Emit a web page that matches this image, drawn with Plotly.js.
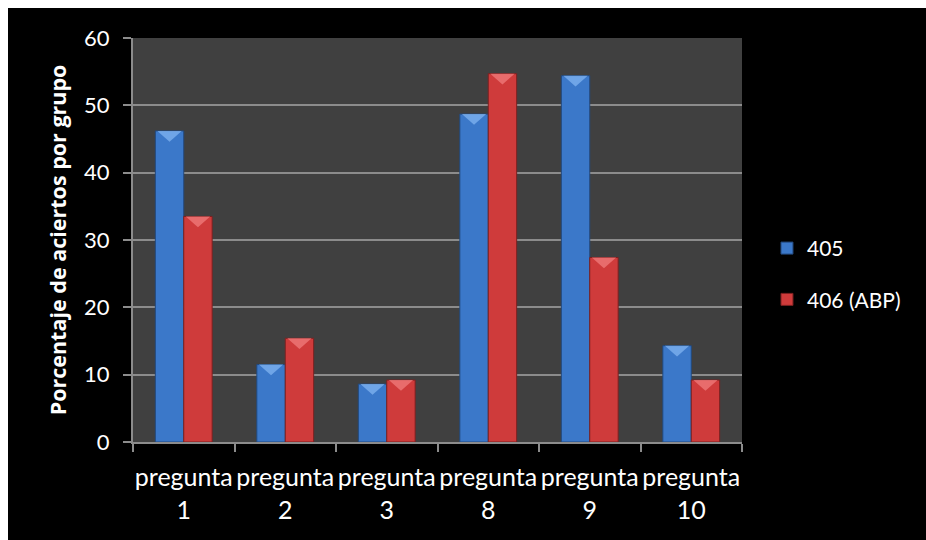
<!DOCTYPE html>
<html>
<head>
<meta charset="utf-8">
<script src="https://cdn.plot.ly/plotly-3.0.1.min.js"></script>
<style>
  html, body { margin: 0; padding: 0; background: #ffffff; }
  #chart { position: absolute; left: 8px; top: 8px; width: 918px; height: 532px; }
</style>
</head>
<body>
<div id="chart"></div>
<script>
// Porcentaje de aciertos por pregunta, grupos 405 y 406 (ABP)
const categories = ["pregunta<br>1", "pregunta<br>2", "pregunta<br>3", "pregunta<br>8", "pregunta<br>9", "pregunta<br>10"];
const grupo405 = [46.2, 11.5, 8.6, 48.7, 54.4, 14.3];
const grupo406 = [33.5, 15.4, 9.2, 54.7, 27.4, 9.2];
const seriesNames = ["405", "406 (ABP)"];

const FONT = "Lato, 'Open Sans', sans-serif";
const TITLE_FONT = "'Open Sans', Lato, sans-serif";

const traces = [
  {
    type: "bar", name: seriesNames[0], x: categories, y: grupo405,
    legendgroup: "a",
    marker: { color: "#3b78c9", line: { color: "#22497e", width: 1 } },
    hoverinfo: "y"
  },
  {
    type: "bar", name: seriesNames[1], x: categories, y: grupo406,
    legendgroup: "b",
    marker: { color: "#cf3b3b", line: { color: "#7c2020", width: 1 } },
    hoverinfo: "y"
  }
];

// Bevelled tops: a lighter chevron on each bar, placed from the bar's own value
const shapes = [];
const half = 0.28;
const dip = 1.6;
function chevron(x0, x1, v, col) {
  shapes.push({
    type: "path", xref: "x", yref: "y", layer: "above",
    path: `M ${x0} ${v} L ${x1} ${v} L ${(x0 + x1) / 2} ${v - dip} Z`,
    fillcolor: col, line: { width: 0 }
  });
}
grupo405.forEach((v, i) => chevron(i - half + 0.02, i - 0.02, v, "rgba(130,180,240,0.75)"));
grupo406.forEach((v, i) => chevron(i + 0.02, i + half - 0.02, v, "rgba(240,125,125,0.75)"));

const layout = {
  width: 918, height: 532,
  paper_bgcolor: "#000000",
  plot_bgcolor: "#404040",
  margin: { l: 125, r: 184, t: 30, b: 98 },
  font: { family: FONT, color: "#ffffff", size: 22 },
  barmode: "group",
  bargap: 0.44,
  bargroupgap: 0,
  showlegend: true,
  legend: {
    x: 1.041, y: 0.416, xanchor: "left", yanchor: "middle",
    font: { family: FONT, size: 21, color: "#ffffff" },
    bgcolor: "rgba(0,0,0,0)",
    traceorder: "grouped",
    tracegroupgap: 21,
    itemwidth: 30
  },
  xaxis: {
    type: "category",
    tickson: "boundaries",
    tickangle: 0,
    ticklabelstandoff: 12,
    ticks: "outside", ticklen: 8, tickcolor: "#8c8c8c", tickwidth: 2,
    showline: true, linecolor: "#8c8c8c", linewidth: 2,
    showgrid: false,
    tickfont: { family: FONT, size: 25, color: "#ffffff" },
    fixedrange: true
  },
  yaxis: {
    range: [0, 60], dtick: 10,
    ticklabelstandoff: 9,
    ticks: "outside", ticklen: 8, tickcolor: "#8c8c8c", tickwidth: 2,
    showline: true, linecolor: "#8c8c8c", linewidth: 2,
    showgrid: true, gridcolor: "#8c8c8c", gridwidth: 2,
    zeroline: false,
    tickfont: { family: FONT, size: 22, color: "#ffffff" },
    title: {
      text: "<b>Porcentaje de aciertos por grupo</b>",
      font: { family: TITLE_FONT, size: 21.5, color: "#ffffff" },
      standoff: 12
    },
    fixedrange: true
  },
  shapes: shapes
};

Plotly.newPlot("chart", traces, layout, { displayModeBar: false, staticPlot: true });
</script>
</body>
</html>
